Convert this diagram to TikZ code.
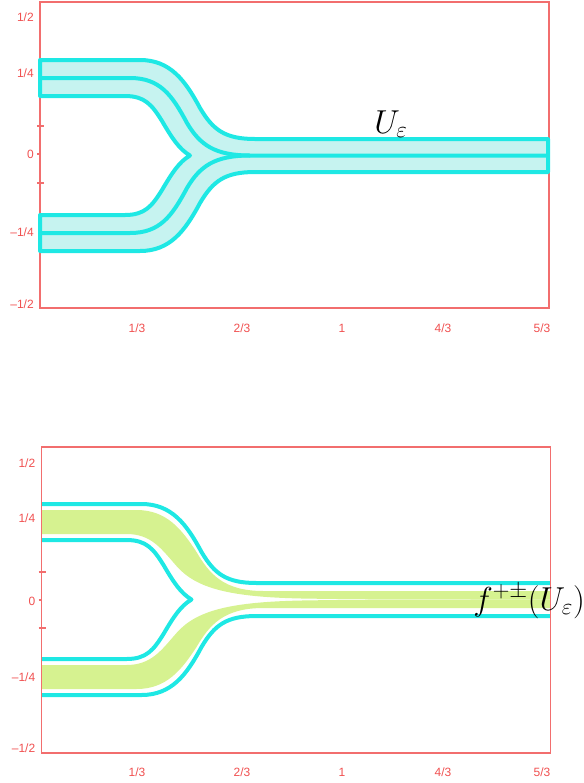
\documentclass[tikz,border=0pt]{standalone}
\usepackage{fontspec}
\newfontfamily\lblfont{Liberation Sans}
\definecolor{framecol}{RGB}{242,110,110}
\definecolor{lblcol}{RGB}{240,80,80}
\definecolor{cyanline}{RGB}{30,232,228}
\definecolor{cyanfill}{RGB}{198,243,240}
\definecolor{greenfill}{RGB}{214,242,144}
\tikzset{
  frame/.style={draw=framecol, line width=0.8pt},
  tickmark/.style={draw=framecol, line width=0.8pt},
  ylbl/.style={anchor=east, text=lblcol, font=\lblfont\fontsize{9}{10}\selectfont, inner sep=0pt},
  xlbl/.style={anchor=center, text=lblcol, font=\lblfont\fontsize{9}{10}\selectfont, inner sep=0pt},
  tube/.style={draw=cyanline, line width=3pt, line join=round},
  mathlbl/.style={font=\fontsize{24}{28}\selectfont, inner sep=0pt}
}
\begin{document}
\begin{tikzpicture}[x=0.75pt,y=-0.75pt]
\useasboundingbox (0,0) rectangle (584,783);

% ================= TOP PANEL =================
\fill[cyanfill] (40,60) -- (140,60) .. controls (170,60) and (185,80) .. (200,108) .. controls (213,130) and (225,139) .. (255,139) -- (548,139) -- (548,172) -- (255,172) .. controls (225,172) and (213,181) .. (200,203) .. controls (185,231) and (170,251) .. (140,251) -- (40,251) -- (40,215) -- (125,215) .. controls (145,215) and (152,206) .. (162,190) .. controls (172,173) and (179,162) .. (190,155.5) .. controls (179,149) and (172,138) .. (162,121) .. controls (152,105) and (145,96) .. (125,96) -- (40,96) -- cycle;
\draw[frame] (40,2) rectangle (549,308);
\draw[tube] (40,60) -- (140,60) .. controls (170,60) and (185,80) .. (200,108) .. controls (213,130) and (225,139) .. (255,139) -- (548,139) -- (548,172) -- (255,172) .. controls (225,172) and (213,181) .. (200,203) .. controls (185,231) and (170,251) .. (140,251) -- (40,251) -- (40,215) -- (125,215) .. controls (145,215) and (152,206) .. (162,190) .. controls (172,173) and (179,162) .. (190,155.5) .. controls (179,149) and (172,138) .. (162,121) .. controls (152,105) and (145,96) .. (125,96) -- (40,96) -- cycle;
\draw[tube] (40,78) -- (130,78) .. controls (160,78) and (172,95) .. (187,123) .. controls (200,145) and (215,155.5) .. (250,155.5) -- (548,155.5);
\draw[tube] (40,233) -- (130,233) .. controls (160,233) and (172,216) .. (187,188) .. controls (200,166) and (215,155.5) .. (250,155.5);
\draw[tickmark] (37,126) -- (44,126);
\draw[tickmark] (37,183) -- (44,183);
\draw[tickmark] (37,154) -- (40,154);
\node[ylbl] (ta) at (34,17) {1/2};
\node[ylbl] (tb) at (34,73) {1/4};
\node[ylbl] (tc) at (34,154) {0};
\node[ylbl] (td) at (34,232) {–1/4};
\node[ylbl] (te) at (34,304) {–1/2};
\node[xlbl] (xa) at (137,328) {1/3};
\node[xlbl] (xb) at (242,328) {2/3};
\node[xlbl] (xc) at (342,328) {1};
\node[xlbl] (xd) at (443,328) {4/3};
\node[xlbl] (xe) at (542,328) {5/3};
\node[mathlbl, anchor=base west] (ue) at (374,133) {$U_\varepsilon$};

% ================= BOTTOM PANEL =================
\begin{scope}[shift={(1.5,444)}]
\fill[greenfill] (40,66) -- (135,66) .. controls (165,66) and (180,85) .. (195,108) .. controls (208,130) and (222,147) .. (262,147) -- (549,147) -- (549,155.5) .. controls (400,155.5) and (360,155.5) .. (300,154.5) .. controls (230,153) and (195,145) .. (175,122) .. controls (160,105) and (150,90) .. (125,90) -- (40,90) -- cycle;
\fill[greenfill] (40,245) -- (135,245) .. controls (165,245) and (180,226) .. (195,203) .. controls (208,181) and (222,164) .. (262,164) -- (549,164) -- (549,155.5) .. controls (400,155.5) and (360,155.5) .. (300,156.5) .. controls (230,158) and (195,166) .. (175,189) .. controls (160,206) and (150,221) .. (125,221) -- (40,221) -- cycle;
\draw[tube] (40,60) -- (140,60) .. controls (170,60) and (185,80) .. (200,108) .. controls (213,130) and (225,139) .. (255,139) -- (549,139);
\draw[tube] (40,251) -- (140,251) .. controls (170,251) and (185,231) .. (200,203) .. controls (213,181) and (225,172) .. (255,172) -- (549,172);
\draw[tube] (40,96) -- (125,96) .. controls (145,96) and (152,105) .. (162,121) .. controls (172,138) and (179,149) .. (190,155.5) .. controls (179,162) and (172,173) .. (162,190) .. controls (152,206) and (145,215) .. (125,215) -- (40,215);
\end{scope}
\draw[frame] (41.5,447) rectangle (550.5,753);
\draw[tickmark] (38.5,572) -- (45.5,572);
\draw[tickmark] (38.5,628) -- (45.5,628);
\draw[tickmark] (38.5,600) -- (41.5,600);
\node[ylbl] (ba) at (35.5,463) {1/2};
\node[ylbl] (bb) at (35.5,518) {1/4};
\node[ylbl] (bc) at (35.5,601) {0};
\node[ylbl] (bd) at (35.5,677) {–1/4};
\node[ylbl] (be) at (35.5,748) {–1/2};
\node[xlbl] (ya) at (137,772) {1/3};
\node[xlbl] (yb) at (242,772) {2/3};
\node[xlbl] (yc) at (342,772) {1};
\node[xlbl] (yd) at (443,772) {4/3};
\node[xlbl] (ye) at (542,772) {5/3};
\node[mathlbl, anchor=base west] (fu) at (473,610) {$f^{+\pm}(U_\varepsilon)$};
\end{tikzpicture}
\end{document}
